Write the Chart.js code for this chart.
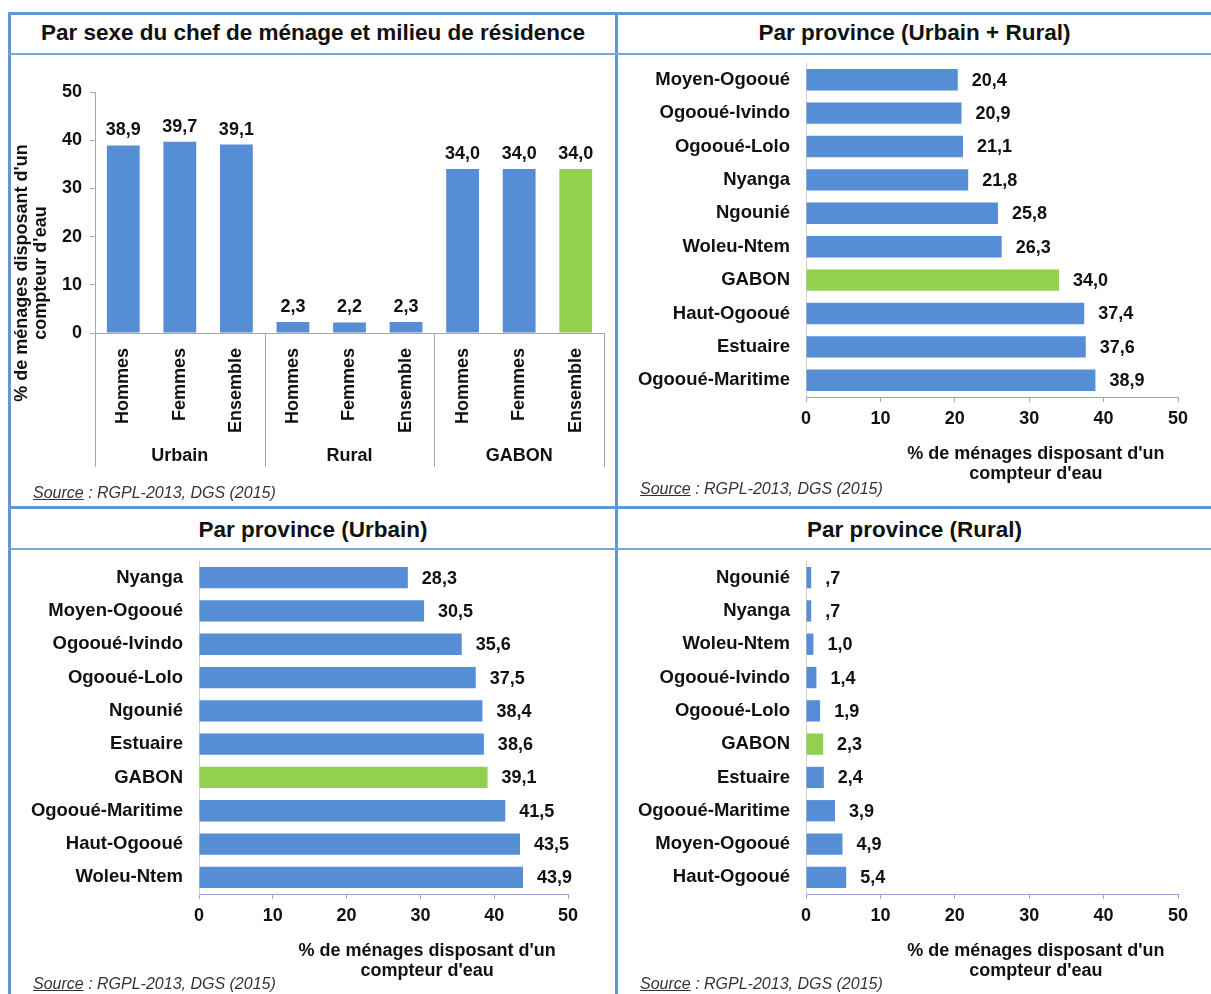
<!DOCTYPE html>
<html lang="fr">
<head>
<meta charset="utf-8">
<title>Ménages disposant d'un compteur d'eau</title>
<script src="https://cdn.jsdelivr.net/npm/chart.js@4.4.1/dist/chart.umd.min.js"></script>
<style>
  html, body { margin: 0; padding: 0; background: #fff; }
  body { width: 1211px; height: 994px; position: relative; overflow: hidden;
         font-family: "Liberation Sans", Arial, sans-serif; }
  .line { position: absolute; background: #6496d2; }
  .head { position: absolute; text-align: center; font-weight: bold; font-size: 22.5px; color: #111; }
  canvas { position: absolute; }
  .src { position: absolute; font-style: italic; font-size: 16px; color: #333; }
</style>
</head>
<body>
<div class="line" style="left:8px;top:12px;width:1203px;height:3px"></div>
<div class="line" style="left:8px;top:12px;width:3px;height:982px"></div>
<div class="line" style="left:615px;top:12px;width:3px;height:982px"></div>
<div class="line" style="left:8px;top:506px;width:1203px;height:3px"></div>
<div class="line" style="left:8px;top:53px;width:1203px;height:2px;background:#7aa3d6"></div>
<div class="line" style="left:8px;top:548px;width:1203px;height:2px;background:#7aa3d6"></div>

<div class="head" style="left:11px;top:20px;width:604px">Par sexe du chef de ménage et milieu de résidence</div>
<div class="head" style="left:618px;top:20px;width:593px">Par province (Urbain + Rural)</div>
<div class="head" style="left:11px;top:517px;width:604px">Par province (Urbain)</div>
<div class="head" style="left:618px;top:517px;width:593px">Par province (Rural)</div>

<canvas id="c1" width="604" height="450" style="left:11px;top:56px"></canvas>
<canvas id="c2" width="593" height="450" style="left:618px;top:56px"></canvas>
<canvas id="c3" width="604" height="443" style="left:11px;top:551px"></canvas>
<canvas id="c4" width="593" height="443" style="left:618px;top:551px"></canvas>

<div class="src" style="left:33px;top:484px"><u>Source</u> : RGPL-2013, DGS (2015)</div>
<div class="src" style="left:640px;top:480px"><u>Source</u> : RGPL-2013, DGS (2015)</div>
<div class="src" style="left:33px;top:975px"><u>Source</u> : RGPL-2013, DGS (2015)</div>
<div class="src" style="left:640px;top:975px"><u>Source</u> : RGPL-2013, DGS (2015)</div>

<script>
// données
const sexLabels = ["Hommes", "Femmes", "Ensemble", "Hommes", "Femmes", "Ensemble", "Hommes", "Femmes", "Ensemble"];
const milieuGroups = ["Urbain", "Rural", "GABON"];
const sexValues = [38.9, 39.7, 39.1, 2.3, 2.2, 2.3, 34.0, 34.0, 34.0];

const provTotalLabels = ["Moyen-Ogooué", "Ogooué-Ivindo", "Ogooué-Lolo", "Nyanga", "Ngounié", "Woleu-Ntem", "GABON", "Haut-Ogooué", "Estuaire", "Ogooué-Maritime"];
const provTotalValues = [20.4, 20.9, 21.1, 21.8, 25.8, 26.3, 34.0, 37.4, 37.6, 38.9];

const provUrbainLabels = ["Nyanga", "Moyen-Ogooué", "Ogooué-Ivindo", "Ogooué-Lolo", "Ngounié", "Estuaire", "GABON", "Ogooué-Maritime", "Haut-Ogooué", "Woleu-Ntem"];
const provUrbainValues = [28.3, 30.5, 35.6, 37.5, 38.4, 38.6, 39.1, 41.5, 43.5, 43.9];

const provRuralLabels = ["Ngounié", "Nyanga", "Woleu-Ntem", "Ogooué-Ivindo", "Ogooué-Lolo", "GABON", "Estuaire", "Ogooué-Maritime", "Moyen-Ogooué", "Haut-Ogooué"];
const provRuralValues = [0.7, 0.7, 1.0, 1.4, 1.9, 2.3, 2.4, 3.9, 4.9, 5.4];

const axisTicks = [0, 10, 20, 30, 40, 50];
const axisTitleLines = ["% de ménages disposant d'un", "compteur d'eau"];

const BLUE = "#558ed5";
const GREEN = "#92d050";
const FONT = '"Liberation Sans", Arial, sans-serif';
const TXT = "#111";

function fmt(v) {
  const s = v.toFixed(1).replace(".", ",");
  return s.startsWith("0,") ? s.slice(1) : s;
}

// étiquettes de valeurs, titres d'axe, groupes
const decor = {
  id: "decor",
  afterDatasetsDraw(chart) {
    const ctx = chart.ctx;
    const horiz = chart.options.indexAxis === "y";
    const vals = chart.data.datasets[0].data;
    ctx.save();
    ctx.font = "bold 18px " + FONT;
    ctx.fillStyle = TXT;
    chart.getDatasetMeta(0).data.forEach((bar, i) => {
      if (horiz) {
        ctx.textAlign = "left";
        ctx.textBaseline = "middle";
        ctx.fillText(fmt(vals[i]), bar.x + 14, bar.y + 1);
      } else {
        ctx.textAlign = "center";
        ctx.textBaseline = "bottom";
        ctx.fillText(fmt(vals[i]), bar.x, bar.y - 6);
      }
    });
    ctx.restore();
  },
  afterDraw(chart, args, opts) {
    const ctx = chart.ctx;
    const area = chart.chartArea;
    ctx.save();
    ctx.font = "bold 18px " + FONT;
    ctx.fillStyle = TXT;
    ctx.textAlign = "center";
    ctx.textBaseline = "middle";
    if (opts.groups) {
      const x = chart.scales.x;
      const per = sexLabels.length / opts.groups.length;
      ctx.strokeStyle = "#a6a6a6";
      ctx.lineWidth = 1;
      const edges = [area.left];
      for (let g = 1; g < opts.groups.length; g++) {
        edges.push((x.getPixelForValue(g * per - 1) + x.getPixelForValue(g * per)) / 2);
      }
      edges.push(area.right);
      edges.forEach(px => {
        ctx.beginPath();
        ctx.moveTo(Math.round(px) + 0.5, area.bottom);
        ctx.lineTo(Math.round(px) + 0.5, area.bottom + 134);
        ctx.stroke();
      });
      opts.groups.forEach((name, g) => {
        ctx.fillText(name, (edges[g] + edges[g + 1]) / 2, area.bottom + 123);
      });
      // titre de l'axe vertical
      ctx.save();
      ctx.translate(11, 217);
      ctx.rotate(-Math.PI / 2);
      ctx.fillText(axisTitleLines[0], 0, 0);
      ctx.fillText(axisTitleLines[1], 0, 19);
      ctx.restore();
    } else {
      const cx = area.left + (area.right - area.left) * 0.618;
      ctx.fillText(axisTitleLines[0], cx, area.bottom + 57);
      ctx.fillText(axisTitleLines[1], cx, area.bottom + 77);
    }
    ctx.restore();
  }
};
Chart.register(decor);

const tickFont = { family: FONT, size: 18, weight: "bold" };
const catFont = { family: FONT, size: 18.5, weight: "bold" };

new Chart(document.getElementById("c1"), {
  type: "bar",
  data: {
    labels: sexLabels,
    datasets: [{
      data: sexValues,
      backgroundColor: sexValues.map((v, i) => (i === sexValues.length - 1 ? GREEN : BLUE)),
      barPercentage: 0.58,
      categoryPercentage: 1
    }]
  },
  options: {
    responsive: false,
    animation: false,
    events: [],
    layout: { padding: { top: 36, right: 11, left: 0, bottom: 0 } },
    plugins: { legend: { display: false }, tooltip: { enabled: false }, decor: { groups: milieuGroups } },
    scales: {
      x: {
        grid: { display: false, drawTicks: false },
        border: { color: "#a6a6a6" },
        ticks: { minRotation: 90, maxRotation: 90, autoSkip: false, padding: 15, font: tickFont, color: TXT },
        afterFit: s => { s.height = 173; s.paddingLeft = 0; s.paddingRight = 0; }
      },
      y: {
        min: 0, max: 50,
        afterBuildTicks: s => { s.ticks = axisTicks.map(v => ({ value: v })); },
        grid: { drawOnChartArea: false, tickLength: 5, color: "#a6a6a6" },
        border: { color: "#a6a6a6" },
        ticks: { padding: 8, font: tickFont, color: TXT },
        afterFit: s => { s.width = 84; s.paddingTop = 0; s.paddingBottom = 0; }
      }
    }
  }
});

function hbar(id, labels, values, pad, axisH) {
  return new Chart(document.getElementById(id), {
    type: "bar",
    data: {
      labels: labels,
      datasets: [{
        data: values,
        backgroundColor: labels.map(l => (l === "GABON" ? GREEN : BLUE)),
        barPercentage: 0.64,
        categoryPercentage: 1
      }]
    },
    options: {
      indexAxis: "y",
      responsive: false,
      animation: false,
      events: [],
      layout: { padding: pad },
      plugins: { legend: { display: false }, tooltip: { enabled: false } },
      scales: {
        x: {
          min: 0, max: 50,
          afterBuildTicks: s => { s.ticks = axisTicks.map(v => ({ value: v })); },
          grid: { drawOnChartArea: false, tickLength: 5, color: "#8fa9cc" },
          border: { color: "#8fa9cc" },
          ticks: { padding: 6, font: tickFont, color: TXT },
          afterFit: s => { s.height = axisH; s.paddingLeft = 0; s.paddingRight = 0; }
        },
        y: {
          grid: { display: false, drawTicks: false },
          border: { color: "#d0d0d0" },
          ticks: { padding: 16, font: catFont, color: TXT, autoSkip: false },
          afterFit: s => { s.width = 188; s.paddingTop = 0; s.paddingBottom = 0; }
        }
      }
    }
  });
}

hbar("c2", provTotalLabels, provTotalValues, { top: 7, right: 33, left: 0, bottom: 0 }, 109);
hbar("c3", provUrbainLabels, provUrbainValues, { top: 10, right: 47, left: 0, bottom: 0 }, 100);
hbar("c4", provRuralLabels, provRuralValues, { top: 10, right: 33, left: 0, bottom: 0 }, 100);
</script>
</body>
</html>
